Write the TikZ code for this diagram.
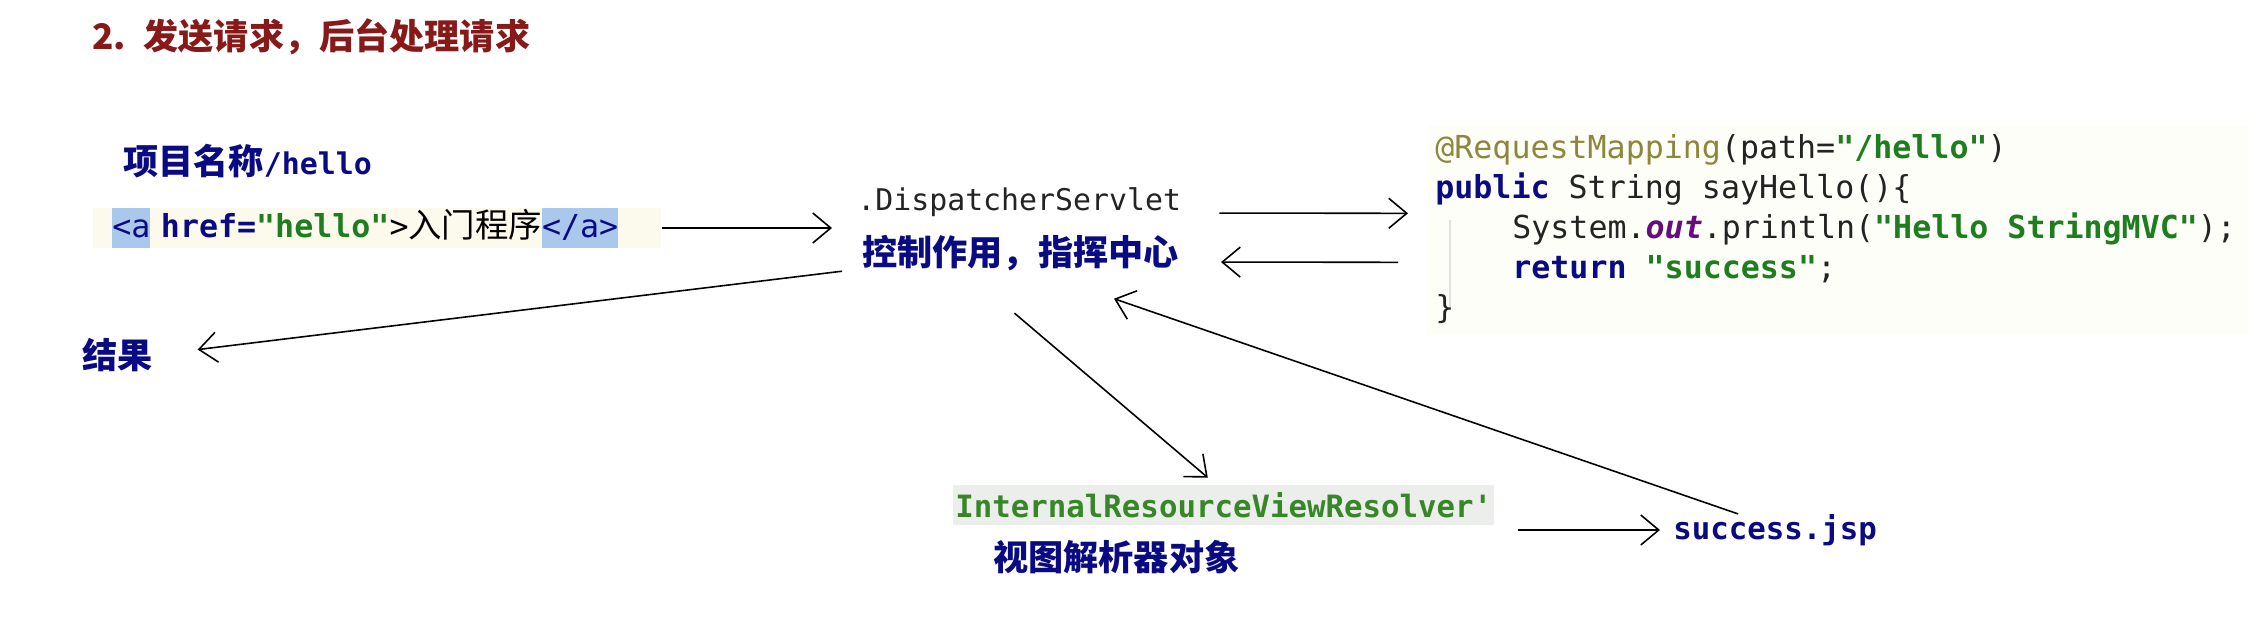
\documentclass[tikz,border=0pt]{standalone}
\usepackage{fontspec}
\setmainfont{Noto Sans CJK SC}
\setmonofont{DejaVu Sans Mono}
\usetikzlibrary{positioning, arrows.meta}
\definecolor{titlered}{RGB}{135, 25, 25}
\definecolor{navy}{RGB}{10, 10, 130}
\definecolor{codegreen}{RGB}{30, 125, 30}
\definecolor{resgreen}{RGB}{55, 135, 40}
\definecolor{annot}{RGB}{140, 135, 60}
\definecolor{outpurple}{RGB}{102, 14, 122}
\definecolor{tagblue}{RGB}{170, 200, 235}
\definecolor{linkbg}{RGB}{252, 250, 236}
\definecolor{graybox}{RGB}{236, 238, 236}
\definecolor{codebg}{RGB}{254, 254, 249}
\definecolor{plain}{RGB}{35, 35, 35}
\newcommand{\jkw}[1]{\textcolor{navy}{\bfseries #1}}
\newcommand{\jstr}[1]{\textcolor{codegreen}{\bfseries #1}}
\newcommand{\tagmark}[1]{{\setlength{\fboxsep}{0pt}\colorbox{tagblue}{\rule[-0.22cm]{0pt}{0.8cm}#1}}}

\begin{document}
\begin{tikzpicture}[
      >=stealth,
      heading/.style={anchor=west, inner sep=0pt, text=titlered, font=\bfseries\fontsize{20}{24}\selectfont},
      note/.style={anchor=west, inner sep=0pt, text=navy, font=\bfseries\fontsize{20}{24}\selectfont},
      mono/.style={anchor=west, inner sep=0pt, font=\ttfamily\fontsize{17.5}{21}\selectfont},
      codeline/.style={anchor=base west, inner sep=0pt, text=plain, font=\ttfamily\fontsize{18}{22}\selectfont},
      flow/.style={-{Straight Barb[length=0.36cm, width=0.6cm]}, line width=0.9pt}
  ]
  \useasboundingbox[fill=white] (0,0) rectangle (44.96,-12.32);

  % Title
  \node[heading] (title) at (1.84,-0.74) {2.\hspace{0.5em}发送请求，后台处理请求};

  % Request side
  \node[note] (proj) at (2.46,-3.22) {项目名称{\ttfamily\bfseries\fontsize{17}{20}\selectfont /hello}};
  \node[anchor=west, fill=linkbg, inner xsep=0.38cm, inner ysep=0pt, text width=10.6cm, align=left,
        font=\ttfamily\fontsize{18}{22}\selectfont] (link) at (1.86,-4.56)
    {\tagmark{\textcolor{navy}{<a}} \jkw{href=}\jstr{"hello"}>{\rmfamily\fontsize{19}{22}\selectfont 入门程序}\tagmark{\textcolor{navy}{</a>}}};
  \node[note] (result) at (1.64,-7.10) {结果};

  % Front controller
  \node[mono, text=plain, font=\ttfamily\fontsize{17}{21}\selectfont] (disp) at (17.14,-4.04) {.DispatcherServlet};
  \node[note] (ctrl) at (17.24,-5.06) {控制作用，指挥中心};

  % Controller method
  \node[anchor=north west, fill=codebg, minimum width=16.42cm, minimum height=4.2cm, inner sep=0pt] (code) at (28.54,-2.5) {};
  \draw[black!12, line width=0.6pt] (29.0,-4.4) -- (29.0,-6.14);
  \node[codeline] (l1) at (28.70,-3.16) {\textcolor{annot}{@RequestMapping}(path=\jstr{"/hello"})};
  \node[codeline] (l2) at (28.70,-3.96) {\jkw{public} String sayHello()\{};
  \node[codeline] (l3) at (30.24,-4.76) {System.\textcolor{outpurple}{\bfseries\itshape out}.println(\jstr{"Hello StringMVC"});};
  \node[codeline] (l4) at (30.24,-5.56) {\jkw{return} \jstr{"success"};};
  \node[codeline] (l5) at (28.70,-6.36) {\}};

  % View resolving
  \node[mono, fill=graybox, text=resgreen, font=\ttfamily\bfseries\fontsize{17.5}{21}\selectfont,
        minimum height=0.8cm, inner xsep=0.04cm] (resolver) at (19.06,-10.10) {InternalResourceViewResolver'};
  \node[note] (viewobj) at (19.86,-11.14) {视图解析器对象};
  \node[mono, text=navy, font=\ttfamily\bfseries\fontsize{17.5}{21}\selectfont] (success) at (33.46,-10.60) {success.jsp};

  % Flow
  \draw[flow, shorten >=0.6cm] (link.east) -- (link.east -| ctrl.west);
  \draw[flow, shorten <=0.76cm, shorten >=0.38cm] ([yshift=-0.22cm]disp.east) -- ([yshift=0.34cm]code.west);
  \draw[flow, shorten <=0.58cm, shorten >=0.84cm] ([yshift=-0.64cm]code.west) -- ([yshift=-0.18cm]ctrl.east);
  \draw[flow, shorten >=0.9cm] ([xshift=-0.4cm]ctrl.south west) -- (result.east);
  \draw[flow] ([shift={(-0.12cm,-0.84cm)}]ctrl.south) -- ([shift={(-0.32cm,0.14cm)}]resolver.north);
  \draw[flow, shorten <=0.46cm, shorten >=0.26cm] (success.west -| resolver.east) -- (success.west);
  \draw[flow] ([xshift=-0.74cm]success.north) -- ([shift={(-1.3cm,-0.55cm)}]ctrl.south east);

\end{tikzpicture}
\end{document}
